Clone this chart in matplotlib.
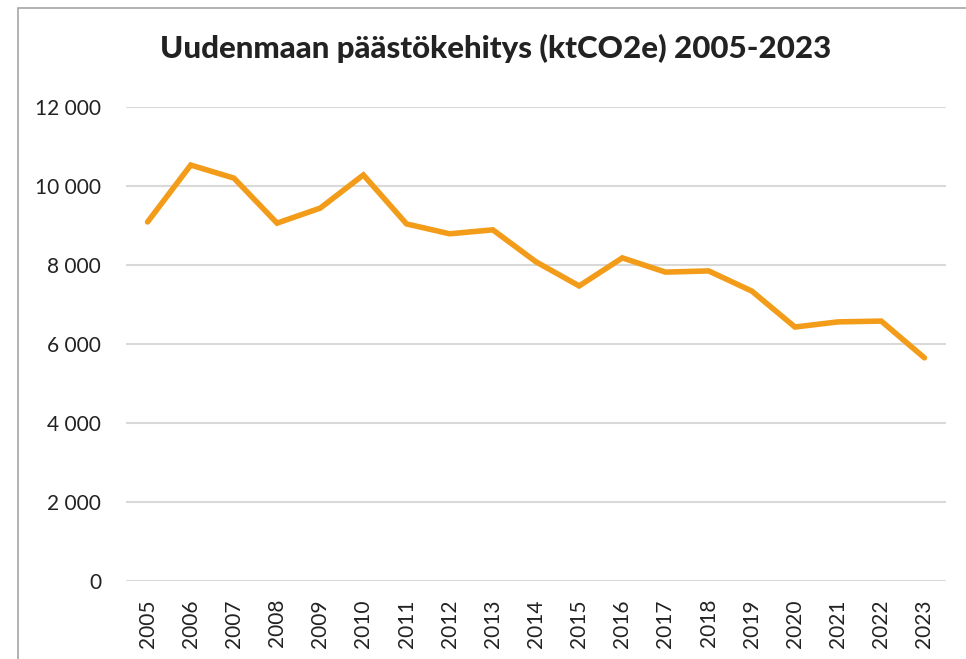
import matplotlib
matplotlib.use("Agg")
import matplotlib.pyplot as plt
from matplotlib.patches import Rectangle
from matplotlib.ticker import FuncFormatter

years = [str(y) for y in range(2005, 2024)]
emissions = [9090, 10530, 10200, 9060, 9440, 10280, 9040, 8790, 8890, 8080,
             7470, 8180, 7820, 7850, 7340, 6430, 6560, 6580, 5650]
yticks = [0, 2000, 4000, 6000, 8000, 10000, 12000]

plt.rcParams['font.family'] = ['Lato', 'DejaVu Sans']
text_color = '#222222'

fig = plt.figure(figsize=(9.66, 6.59), dpi=100)
ax = fig.add_axes([126 / 966, 1 - 581 / 659, 820 / 966, 474 / 659])

ax.plot(range(len(years)), emissions, color='#F39C1A', linewidth=4,
        solid_joinstyle='miter', solid_capstyle='round', zorder=3)

ax.set_xlim(-0.5, len(years) - 0.5)
ax.set_ylim(0, 12000)
ax.set_xticks(range(len(years)))
ax.set_xticklabels(years, rotation=90, fontsize=15, color=text_color)
ax.set_yticks(yticks)
ax.yaxis.set_major_formatter(FuncFormatter(lambda v, _: f"{int(v):,}".replace(",", " ")))
ax.tick_params(axis='y', labelsize=15, labelcolor=text_color, length=0, pad=18)
ax.tick_params(axis='x', length=0, pad=13)
ax.grid(axis='y', color='#d9d9d9', linewidth=1.5)
ax.set_axisbelow(True)
for s in ax.spines.values():
    s.set_visible(False)

fig.text(496 / 966, 1 - 48 / 659, "Uudenmaan päästökehitys (ktCO2e) 2005-2023",
         ha='center', va='center', fontsize=22.5, fontweight='black', color=text_color)

# outer chart frame
fig.patches.append(Rectangle((18 / 966, -0.05), 1.1, 1 - 8 / 659 + 0.05,
                             transform=fig.transFigure, fill=False,
                             edgecolor='#a6a6a6', linewidth=1.2))

fig.savefig("out.png", dpi=100)
